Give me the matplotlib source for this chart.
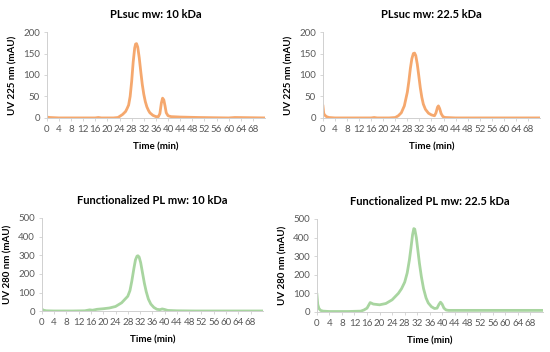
import numpy as np
import matplotlib.pyplot as plt

# Chromatogram values (time in min, signal in mAU)
t1 = [0, 1, 4, 10, 16, 17, 18, 22, 23.5, 25, 26, 26.5, 27, 27.5, 28, 28.5, 29, 29.3, 29.6, 30, 30.5, 31, 31.5, 32, 32.5, 33, 33.5, 34, 35, 36, 36.8, 37.3, 37.8, 38.2, 38.6, 39, 39.4, 40, 41, 44, 50, 60, 62, 72]
y1 = [2, 1, 0, 0, 0, 1, 0, 0, 1, 8, 15, 22, 30, 50, 85, 130, 163, 172, 173, 165, 140, 108, 78, 55, 38, 26, 18, 12, 6, 3, 3, 10, 35, 46, 42, 28, 12, 5, 3, 2, 1, 0, 1, 0]

t2 = [0, 0.3, 0.7, 1.2, 2, 4, 10, 16, 17, 18, 22, 24, 25, 26, 27, 28, 28.5, 29, 29.5, 30, 30.4, 30.8, 31.3, 31.8, 32.3, 32.8, 33.3, 34, 35, 36, 37, 37.5, 38, 38.3, 38.7, 39.2, 39.8, 40.5, 44, 60, 72]
y2 = [30, 10, 6, 3, 1, 0, 0, 0, 1, 0, 0, 1, 5, 12, 28, 60, 85, 115, 138, 150, 151, 145, 125, 98, 70, 48, 32, 20, 11, 7, 5, 12, 25, 28, 22, 10, 3, 1, 0, 0, 0]

t3 = [0, 0.5, 1.5, 4, 10, 14, 15.6, 16.5, 18, 20, 22, 24, 26, 28, 28.7, 29.3, 30, 30.5, 31, 31.3, 31.7, 32.2, 32.8, 33.4, 34, 34.7, 35.5, 36.5, 37.5, 38.5, 39.2, 40, 41, 44, 50, 72]
y3 = [12, 5, 2, 1, 1, 2, 7, 5, 10, 13, 17, 25, 45, 80, 110, 160, 230, 275, 295, 297, 290, 260, 205, 150, 105, 65, 38, 20, 10, 8, 12, 9, 4, 2, 1, 1]

t4 = [0, 0.3, 0.7, 1.2, 2, 4, 10, 14, 15, 16, 17, 18, 20, 22, 24, 26, 27, 28, 28.8, 29.5, 30, 30.5, 30.9, 31.2, 31.7, 32.2, 32.7, 33.3, 34, 34.8, 35.5, 36.5, 37.5, 38.3, 38.9, 39.4, 39.9, 40.5, 41.2, 42, 50, 60, 72]
y4 = [100, 40, 18, 8, 4, 2, 2, 4, 10, 20, 50, 42, 38, 45, 65, 100, 125, 160, 210, 280, 345, 415, 448, 445, 400, 330, 260, 190, 125, 75, 48, 28, 18, 20, 40, 52, 42, 20, 10, 8, 8, 8, 8]

titles = ['PLsuc mw: 10 kDa', 'PLsuc mw: 22.5 kDa',
          'Functionalized PL mw: 10 kDa', 'Functionalized PL mw: 22.5 kDa']
ylabels = ['UV 225 nm (mAU)', 'UV 225 nm (mAU)', 'UV 280 nm (mAU)', 'UV 280 nm (mAU)']
ymax = [200, 200, 500, 500]
ystep = [50, 50, 100, 100]
xticks = list(range(0, 69, 4))

orange = '#F5A86E'
green = '#A8D5A0'
grey = '#595959'

plt.rcParams['font.family'] = ['Lato', 'DejaVu Sans']

fig = plt.figure(figsize=(5.5, 3.52), dpi=100)
boxes = [[0.085, 0.665, 0.397, 0.244],
         [0.587, 0.665, 0.395, 0.244],
         [0.076, 0.116, 0.402, 0.265],
         [0.576, 0.114, 0.411, 0.264]]
series = [(t1, y1, orange), (t2, y2, orange), (t3, y3, green), (t4, y4, green)]

for i in range(4):
    ax = fig.add_axes(boxes[i])
    t, y, c = series[i]
    ax.plot(t, y, color=c, lw=2, solid_capstyle='round', solid_joinstyle='round')
    ax.set_xlim(0, 72)
    ax.set_ylim(0, ymax[i])
    ax.set_xticks(xticks)
    ax.set_yticks(np.arange(0, ymax[i] + 1, ystep[i]))
    ax.tick_params(axis='both', labelsize=7, colors=grey, length=2, width=0.6, color='#D0D0D0', pad=3)
    for s in ['top', 'right']:
        ax.spines[s].set_visible(False)
    for s in ['left', 'bottom']:
        ax.spines[s].set_color('#D0D0D0')
        ax.spines[s].set_linewidth(0.7)
    ax.set_title(titles[i], fontsize=8, fontweight='bold', pad=10)
    ax.set_xlabel('Time (min)', fontsize=7, fontweight='bold', labelpad=6)
    ax.set_ylabel(ylabels[i], fontsize=7, fontweight='bold', labelpad=4)

fig.savefig('out.png', dpi=100)
